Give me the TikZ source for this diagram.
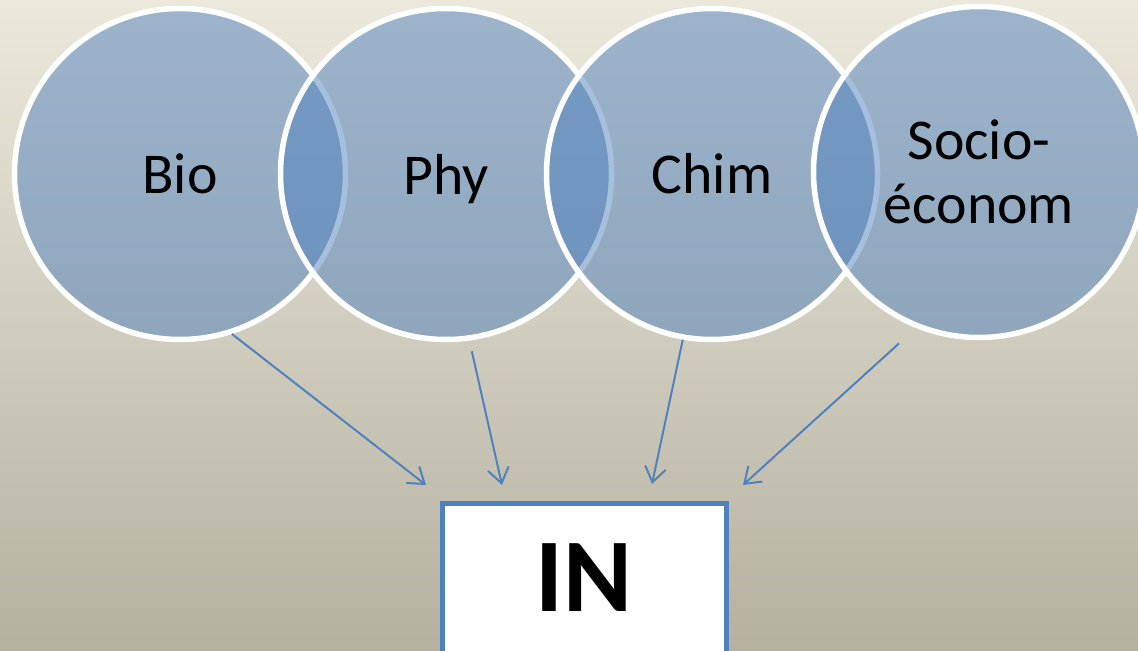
\documentclass[tikz,border=0pt]{standalone}
\usepackage{fontspec}
\setmainfont{Carlito}
\usetikzlibrary{arrows.meta}
\definecolor{accblue}{RGB}{79,129,189}
\definecolor{bgtop}{RGB}{236,233,220}
\definecolor{bgmid}{RGB}{205,201,186}
\definecolor{bgbot}{RGB}{181,177,161}
\tikzset{
  circ/.style={circle, minimum size=331bp, inner sep=0pt, fill=accblue, fill opacity=0.5,
    text opacity=1, draw=white, line width=5.5bp, text=black, align=center,
    font=\fontsize{58}{64}\selectfont},
  inbox/.style={rectangle, draw=accblue, fill=white, line width=5bp, minimum width=284bp,
    minimum height=160bp, inner sep=0pt, text depth=11bp, font=\bfseries\fontsize{105}{110}\selectfont},
  arr/.style={draw=accblue, line width=2bp, -{Straight Barb[length=15bp,width=21bp]}}
}
\begin{document}
\begin{tikzpicture}[x=1bp,y=-1bp]
\useasboundingbox (0,0) rectangle (1138,651);
\shade[top color=bgtop, middle color=bgmid, bottom color=bgbot] (0,0) rectangle (1138,651);
\node[circ] (bio) at (180,174) {Bio};
\node[circ, text depth=0pt] (phy) at (446,174) {Phy};
\node[circ] (chim) at (712,174) {Chim};
\node[circ] (socio) at (979,172) {Socio-\\économ};
\node[inbox] (in) at (584,583) {IN};
\coordinate (e1) at (426,485);
\coordinate (e2) at (502,485);
\coordinate (e3) at (652,484);
\coordinate (e4) at (743,485);
\draw[arr] (bio.-72) -- (e1);
\draw[arr, shorten <=11bp] (phy.-82) -- (e2);
\draw[arr] (chim.-100) -- (e3);
\draw[arr, shorten <=23bp] (socio.-112) -- (e4);
\end{tikzpicture}
\end{document}
